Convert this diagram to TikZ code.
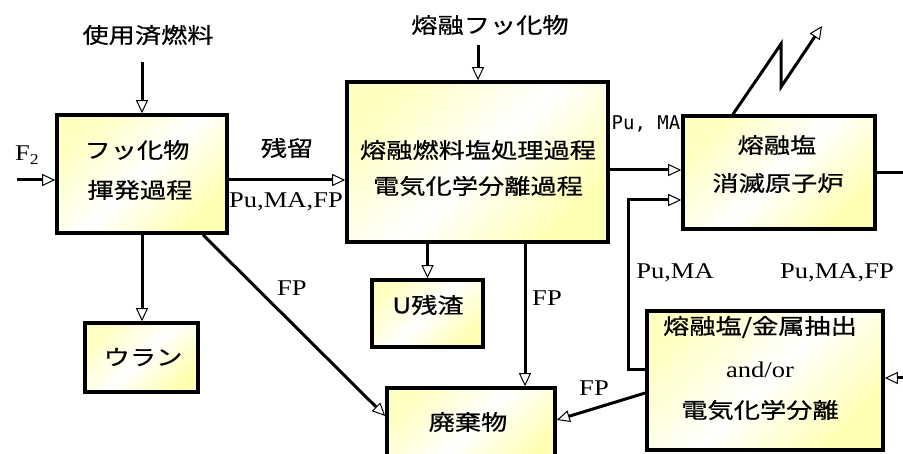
\documentclass[tikz,border=0pt]{standalone}
\usepackage{fontspec}
\setmainfont{Liberation Serif}[FakeStretch=1.18]
\newfontfamily\jp{Noto Sans CJK JP}[FakeStretch=1.22,FakeBold=0.6]
\newfontfamily\monof{DejaVu Sans Mono}
\usetikzlibrary{arrows.meta}
\begin{document}
\begin{tikzpicture}[x=1pt,y=-1pt,
  box/.style={draw, line width=3.6pt, top color=yellow!24, bottom color=yellow!30, middle color=white, shading angle=45, inner sep=0pt},
  arr/.style={line width=3pt, -{Triangle[open, length=13pt, width=12pt, line width=1pt 0 0]}},
  ln/.style={line width=3pt},
  jt/.style={font=\jp\fontsize{21.5}{25}\selectfont, inner sep=0pt},
  lt/.style={font=\fontsize{22.5}{26}\selectfont, inner sep=0pt},
  mt/.style={font=\monof\fontsize{19}{22}\selectfont, inner sep=0pt},
]
\useasboundingbox (0,0) rectangle (903,454);
\clip (0,0) rectangle (903,454);
% boxes
\node[box, minimum width=170, minimum height=118] (b1) at (142,174) {};
\node[box, minimum width=261, minimum height=160] (b2) at (477.5,162) {};
\node[box, minimum width=192, minimum height=113] (b3) at (779,172.5) {};
\node[box, minimum width=236, minimum height=139] (b4) at (765,380.5) {};
\node[box, minimum width=168, minimum height=82] (waste) at (471,429) {};
\node[box, minimum width=111, minimum height=67] (ures) at (427.5,313.5) {};
\node[box, minimum width=113, minimum height=69] (uran) at (141.5,357.5) {};
% box texts
\node[jt] (t1a) at (137,150) {フッ化物};
\node[jt] (t1b) at (140,190) {揮発過程};
\node[jt] (t2a) at (478,150) {熔融燃料塩処理過程};
\node[jt] (t2b) at (478,186) {電気化学分離過程};
\node[jt] (t3a) at (777,145) {熔融塩};
\node[jt] (t3b) at (778,183) {消滅原子炉};
\node[jt] (t4a) at (760,327) {熔融塩/金属抽出};
\node[lt] (t4b) at (760,370) {and/or};
\node[jt] (t4c) at (760,410) {電気化学分離};
\node[jt] (tw) at (468,422) {廃棄物};
\node[jt] (tu) at (428,305) {U残渣};
\node[jt] (tr) at (143,357) {ウラン};
% top inputs
\node[jt] (in1) at (148,35) {使用済燃料};
\node[jt] (in2) at (490,25) {熔融フッ化物};
\node[lt] (in3) at (27,155) {F\raisebox{-4pt}{\fontsize{15}{15}\selectfont 2}};
\coordinate (s0) at (142,62);
\coordinate (s1) at (478,45);
\coordinate (f2) at (17,180);
\coordinate (e3) at (910,173);
\coordinate (e4) at (910,378);
% connectors
\draw[arr] (s0) -- (s0 |- b1.north);
\draw[arr] (s1) -- (s1 |- b2.north);
\draw[arr] (f2) -- (f2 -| b1.west);
\draw[arr] (b1.east |- 0,180) -- (b2.west |- 0,180);
\draw[arr] (b2.east |- 0,170) -- (b3.west |- 0,170);
\draw[arr] (b4.west |- 0,370) -- (628,370) -- (628,200) -- (b3.west |- 0,200);
\draw[ln] (b3.east |- e3) -- (e3);
\draw[arr] (e4) -- (e4 -| b4.east);
\draw[arr] (b3.north -| 733,0) -- (781,44) -- (781,87) -- (822,26);
\draw[arr] (b1.south) -- (b1.south |- uran.north);
\draw[arr] (b1.south -| 203,0) -- (waste.west |- 0,416);
\draw[arr] (ures.north |- b2.south) -- (ures.north);
\draw[arr] (b2.south -| 525,0) -- (waste.north -| 525,0);
\draw[arr] (b4.west |- 0,393) -- (waste.east |- 0,420);
% labels
\node[jt] (l1) at (287,148) {残留};
\node[lt] (l2) at (286,202) {Pu,MA,FP};
\node[mt] (l3) at (646,124) {Pu, MA};
\node[lt] (l4) at (675,273) {Pu,MA};
\node[lt] (l5) at (837,273) {Pu,MA,FP};
\node[lt] (l6) at (292,288) {FP};
\node[lt] (l7) at (547,298) {FP};
\node[lt] (l8) at (594,388) {FP};
\end{tikzpicture}
\end{document}
